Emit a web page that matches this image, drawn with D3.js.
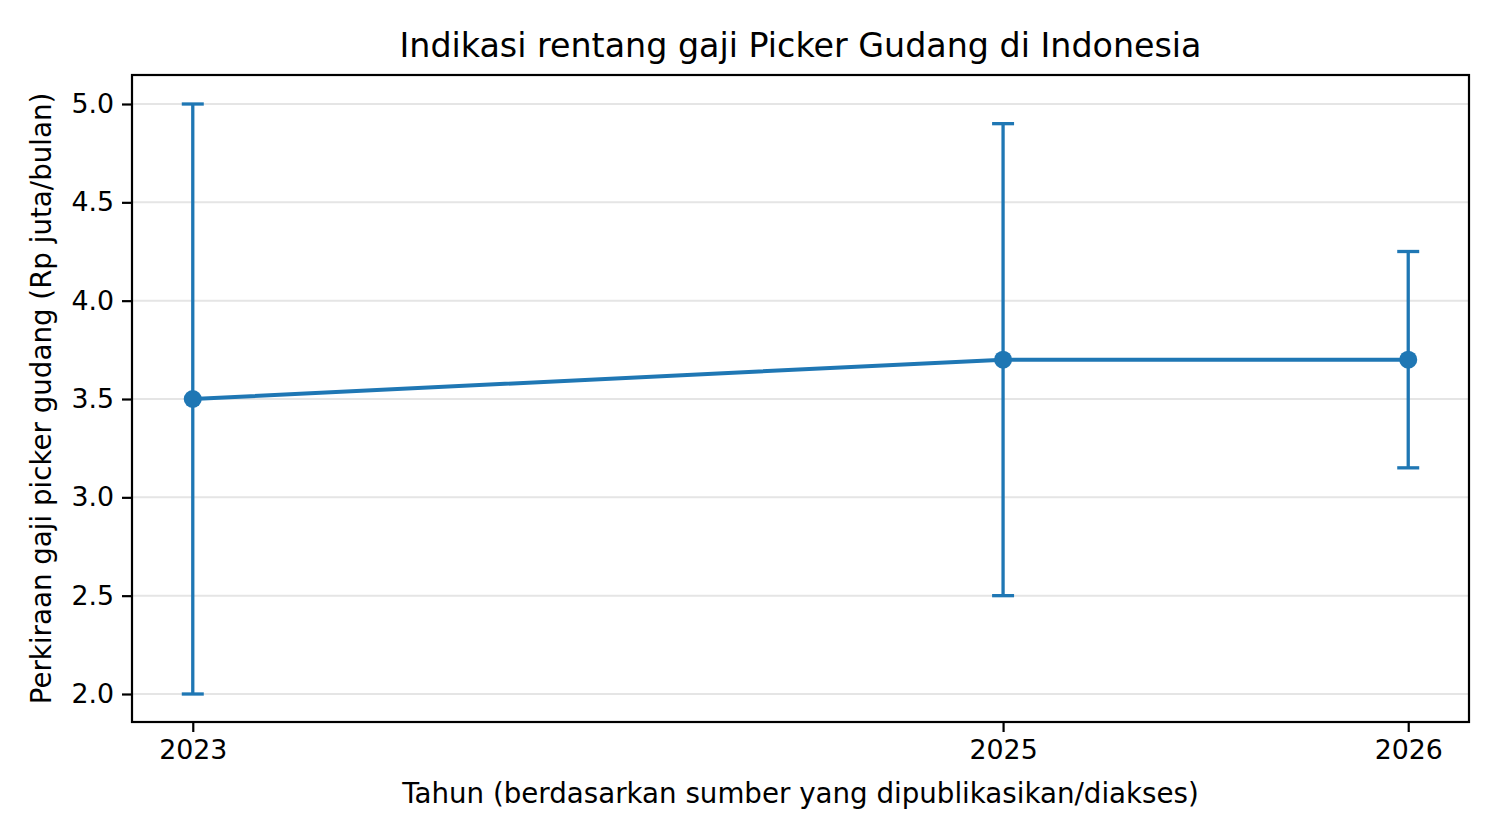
<!DOCTYPE html>
<html lang="id">
<head>
<meta charset="UTF-8">
<title>Indikasi rentang gaji Picker Gudang</title>
<script src="https://d3js.org/d3.v7.min.js"></script>
<style>
  body { margin: 0; background: #fff; }
  text { font-family: "DejaVu Sans", sans-serif; fill: #000; }
</style>
</head>
<body>
<div id="chart"></div>
<script>
// data
const years = [2023, 2025, 2026];
const midSalary = [3.5, 3.7, 3.7];
const lowSalary = [2.0, 2.5, 3.15];
const highSalary = [5.0, 4.9, 4.25];
const yTicks = [2.0, 2.5, 3.0, 3.5, 4.0, 4.5, 5.0];

const W = 1500, H = 840;
const plot = { left: 132, right: 1469, top: 75, bottom: 722 };
const blue = "#1f77b4";

const svg = d3.select("#chart").append("svg")
  .attr("width", W).attr("height", H);

const x = d3.scaleLinear()
  .domain([2022.85, 2026.15])
  .range([plot.left, plot.right]);

const y = d3.scaleLinear()
  .domain([1.85, 5.15])
  .range([723.5, 74.5]);

// grid
svg.append("g")
  .selectAll("line")
  .data(yTicks)
  .join("line")
  .attr("x1", plot.left).attr("x2", plot.right)
  .attr("y1", d => y(d)).attr("y2", d => y(d))
  .attr("stroke", "#e5e5e5")
  .attr("stroke-width", 2);

// axes
const xAxis = svg.append("g")
  .attr("transform", `translate(0,${plot.bottom})`)
  .call(d3.axisBottom(x).tickValues(years).tickFormat(d3.format("d"))
    .tickSize(10).tickPadding(8));
const yAxis = svg.append("g")
  .attr("transform", `translate(${plot.left},0)`)
  .call(d3.axisLeft(y).tickValues(yTicks).tickFormat(d3.format(".1f"))
    .tickSize(10).tickPadding(8));

[xAxis, yAxis].forEach(g => {
  g.select(".domain").remove();
  g.selectAll(".tick line").attr("stroke", "#000").attr("stroke-width", 2.2);
  g.selectAll(".tick text").attr("font-size", 26.8).attr("fill", "#000")
    .style("font-family", "DejaVu Sans");
});

// error bars
const pts = years.map((yr, i) => ({ yr, mid: midSalary[i], lo: lowSalary[i], hi: highSalary[i] }));
const eb = svg.append("g").attr("stroke", blue).attr("stroke-width", 3.3);
eb.selectAll("line.v").data(pts).join("line").attr("class", "v")
  .attr("x1", d => x(d.yr)).attr("x2", d => x(d.yr))
  .attr("y1", d => y(d.lo)).attr("y2", d => y(d.hi));
eb.selectAll("line.capHi").data(pts).join("line").attr("class", "capHi")
  .attr("x1", d => x(d.yr) - 11).attr("x2", d => x(d.yr) + 11)
  .attr("y1", d => y(d.hi)).attr("y2", d => y(d.hi));
eb.selectAll("line.capLo").data(pts).join("line").attr("class", "capLo")
  .attr("x1", d => x(d.yr) - 11).attr("x2", d => x(d.yr) + 11)
  .attr("y1", d => y(d.lo)).attr("y2", d => y(d.lo));

// line + markers
svg.append("path")
  .datum(pts)
  .attr("fill", "none")
  .attr("stroke", blue)
  .attr("stroke-width", 4)
  .attr("d", d3.line().x(d => x(d.yr)).y(d => y(d.mid)));

svg.append("g").selectAll("circle").data(pts).join("circle")
  .attr("cx", d => x(d.yr)).attr("cy", d => y(d.mid))
  .attr("r", 9).attr("fill", blue);

// frame
svg.append("rect")
  .attr("x", plot.left).attr("y", plot.top)
  .attr("width", plot.right - plot.left).attr("height", plot.bottom - plot.top)
  .attr("fill", "none").attr("stroke", "#000").attr("stroke-width", 2.2);

// labels
svg.append("text")
  .attr("x", (plot.left + plot.right) / 2).attr("y", 57)
  .attr("text-anchor", "middle").attr("font-size", 33.3)
  .text("Indikasi rentang gaji Picker Gudang di Indonesia");

svg.append("text")
  .attr("x", (plot.left + plot.right) / 2).attr("y", 803)
  .attr("text-anchor", "middle").attr("font-size", 27.7)
  .text("Tahun (berdasarkan sumber yang dipublikasikan/diakses)");

svg.append("text")
  .attr("transform", `translate(51,${(plot.top + plot.bottom) / 2}) rotate(-90)`)
  .attr("text-anchor", "middle").attr("font-size", 27.7)
  .text("Perkiraan gaji picker gudang (Rp juta/bulan)");
</script>
</body>
</html>
